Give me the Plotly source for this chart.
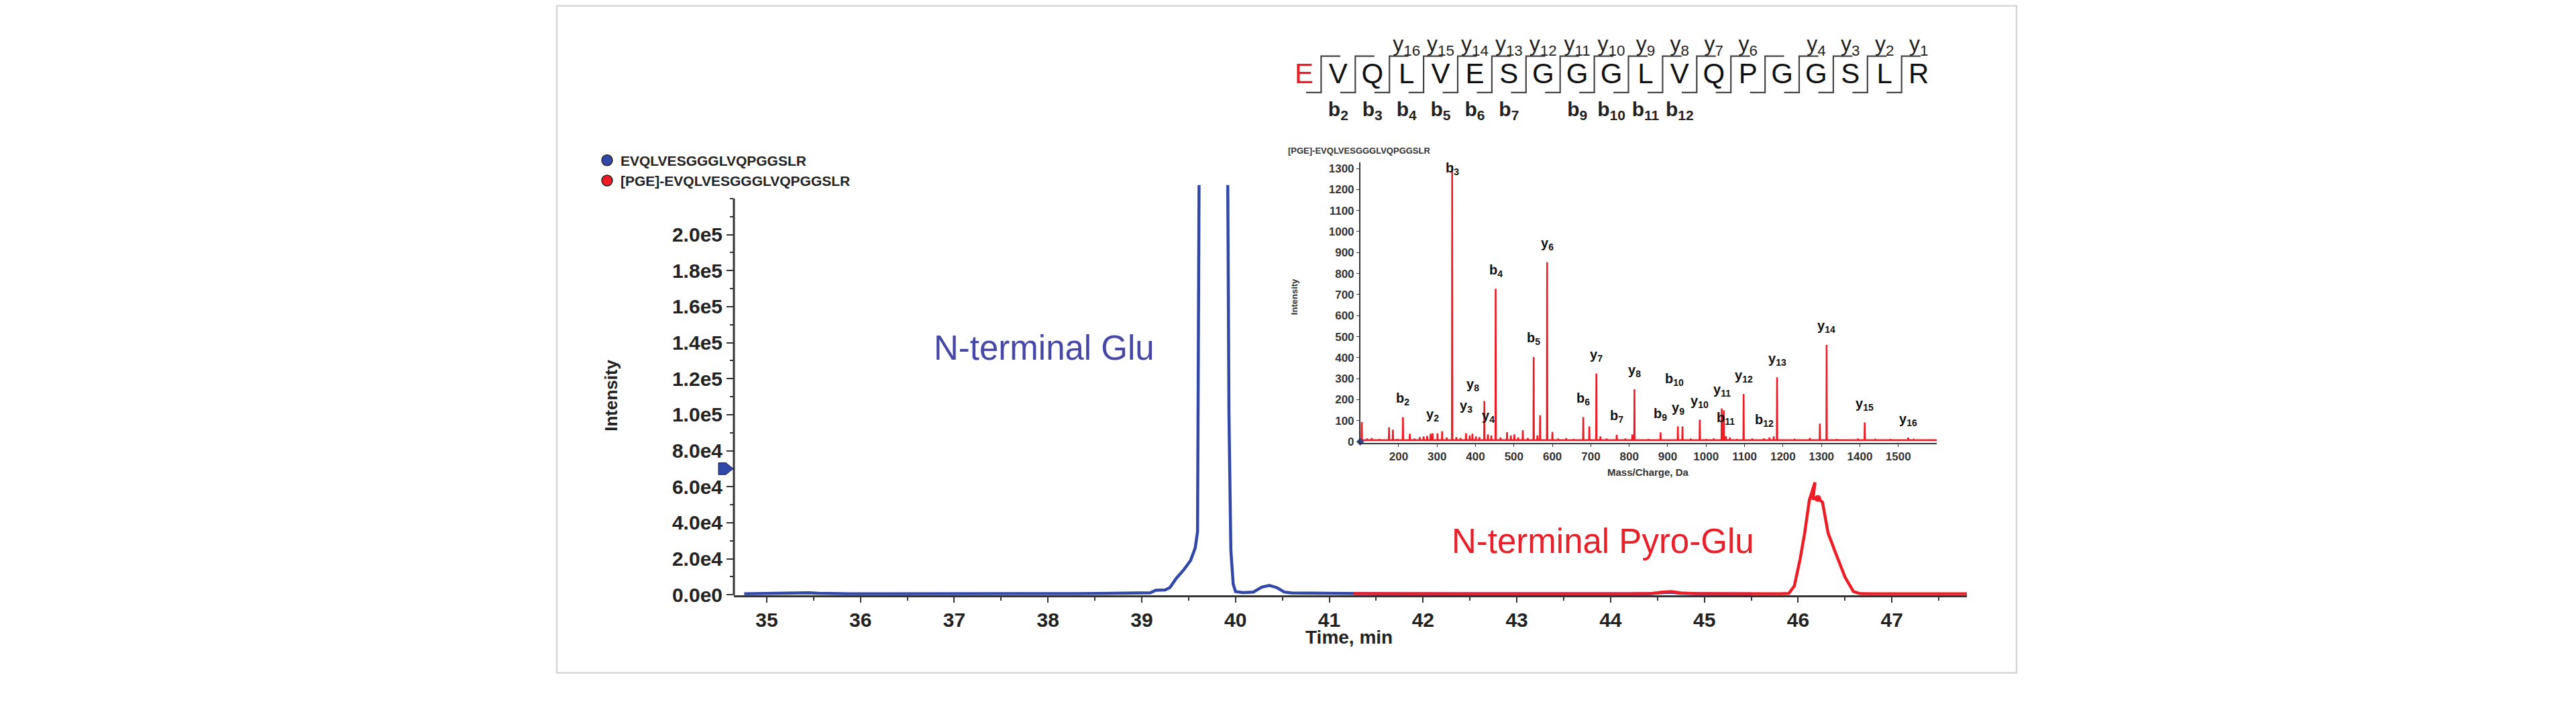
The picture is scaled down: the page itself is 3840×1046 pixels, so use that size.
import plotly.graph_objects as go

W, H = 3840, 1046
FONT = "Liberation Sans, Arial, sans-serif"

# ---------------- chromatogram data (time in min, intensity in cps) ----------------
glu_time = [34.76, 34.9, 35.1, 35.3, 35.45, 35.55, 35.7, 35.9, 36.2, 36.5, 36.8, 37.1, 37.4,
            37.7, 38.0, 38.3, 38.55, 38.75, 38.95, 39.09, 39.15, 39.25, 39.30, 39.37, 39.45,
            39.52, 39.57, 39.595, 39.613, 39.62, 39.76, 39.905, 39.915, 39.93, 39.95, 39.975,
            40.0, 40.08, 40.19, 40.28, 40.36, 40.44, 40.52, 40.6, 40.75, 40.9, 41.1, 41.3,
            41.6, 42.0, 42.5, 43.0, 43.5, 44.0, 44.4, 44.55, 44.65, 44.75, 45.0, 45.5]
glu_intensity = [500, 700, 600, 900, 1100, 800, 600, 500, 550, 500, 450, 500, 500,
                 450, 500, 600, 700, 900, 1000, 1100, 2500, 2700, 4000, 9200, 14000,
                 19000, 26000, 35000, 250000, 600000, 900000, 600000, 250000, 100000, 25000, 6000,
                 1800, 1200, 1500, 4200, 5200, 4000, 1500, 1000, 900, 800, 700, 550,
                 500, 500, 500, 500, 450, 500, 500, 1200, 1400, 800, 500, 450]

pyro_time = [41.26, 41.5, 41.8, 42.1, 42.4, 42.7, 43.0, 43.3, 43.6, 43.9, 44.2, 44.45, 44.55,
             44.65, 44.75, 44.9, 45.2, 45.5, 45.8, 45.90, 45.96, 46.02, 46.07, 46.12, 46.18,
             46.16, 46.21, 46.26, 46.32, 46.40, 46.50, 46.59, 46.66, 46.8, 47.0, 47.2, 47.5, 47.8]
pyro_intensity = [600, 500, 550, 600, 500, 550, 500, 450, 500, 550, 500, 700, 1500,
                  1700, 1000, 600, 500, 450, 500, 700, 4900, 19500, 34200, 52600, 62400,
                  53500, 53500, 51400, 34200, 23200, 9800, 1800, 600, 500, 550, 500, 500, 500]

selected_point = (46.21, 53500)      # highlighted scan on the pyro-Glu peak
threshold_level = 70000              # arrow marker on the intensity axis

x_ticks = list(range(35, 48))
y_tickvals = [0, 20000, 40000, 60000, 80000, 100000, 120000, 140000, 160000, 180000, 200000]
y_ticktext = ["0.0e0", "2.0e4", "4.0e4", "6.0e4", "8.0e4", "1.0e5", "1.2e5", "1.4e5",
              "1.6e5", "1.8e5", "2.0e5"]

series_names = ["EVQLVESGGGLVQPGGSLR", "[PGE]-EVQLVESGGGLVQPGGSLR"]

# ---------------- MS/MS spectrum (inset) ----------------
ion_labels = ["b2", "y2", "b3", "y3", "y8", "y4", "b4", "b5", "y6", "b6", "y7", "b7", "y8",
              "b9", "y9", "b10", "y10", "y11", "b11", "y12", "b12", "y13", "y14", "y15", "y16"]
ion_mz = [211.1, 288.2, 339.2, 375.2, 423.0, 432.2, 452.3, 551.3, 586.3, 680.4, 714.4, 767.4,
          813.5, 881.4, 926.5, 938.5, 983.6, 1040.6, 1051.6, 1097.6, 1150.6, 1184.6, 1313.6,
          1412.7, 1525.8]
ion_intensity = [117, 40, 1314, 40, 194, 35, 728, 403, 854, 117, 325, 33, 250, 44, 73, 73,
                 105, 159, 26, 227, 15, 306, 461, 92, 19]

minor_mz = [104, 118, 130, 150, 162, 175, 185, 196, 229, 241, 255, 265, 274, 283, 301, 313,
            325, 350, 361, 385, 392, 401, 410, 441, 465, 482, 492, 501, 511, 523, 536, 561,
            568, 600, 615, 636, 655, 696, 725, 741, 790, 808, 850, 900, 960, 1000, 1020, 1046,
            1062, 1080, 1120, 1165, 1176, 1230, 1270, 1296, 1340, 1395, 1440, 1480, 1540, 1580]
minor_intensity = [94, 15, 18, 12, 10, 68, 57, 12, 38, 15, 22, 25, 28, 38, 40, 50,
                   20, 22, 18, 30, 38, 25, 22, 30, 20, 45, 30, 35, 20, 55, 18, 30,
                   126, 47, 15, 17, 12, 73, 25, 15, 15, 35, 12, 10, 15, 12, 15, 150,
                   20, 12, 15, 20, 25, 10, 18, 86, 12, 15, 10, 12, 10, 8]
spectrum_baseline = 8

spec_x_ticks = list(range(200, 1600, 100))
spec_y_ticks = list(range(0, 1400, 100))
spectrum_title = "[PGE]-EVQLVESGGGLVQPGGSLR"

# ---------------- peptide fragment map ----------------
sequence = list("EVQLVESGGGLVQPGGSLR")
b_ions = [2, 3, 4, 5, 6, 7, 9, 10, 11, 12]
y_ions = [16, 15, 14, 13, 12, 11, 10, 9, 8, 7, 6, 4, 3, 2, 1]

# ---------------- styles ----------------
BLUE = "#3148A8"
RED = "#EE1C25"
GLU_TEXT = "#4747A8"
PYRO_TEXT = "#E8202A"
AX = "#333333"


def px_x(p):
    return p / W


def px_y(p):
    return 1 - p / H


# main axes geometry (pixels)
MX0, MX1 = 1094, 2932
MY_BOTTOM, MY_TOP = 900.5, 280
XR = [34.65, 47.8]
YR = [-200, 227500]

# inset geometry
IX0, IX1 = 2027.7, 2887
IY_BOTTOM, IY_TOP = 670, 245.4
SXR = [100, 1600]
SYR = [-5, 1330]

# sequence map geometry
QX0, QX1 = 1918.5, 2885.6

fig = go.Figure()

# chromatograms
fig.add_trace(go.Scatter(x=glu_time, y=glu_intensity, mode="lines",
                         line=dict(color=BLUE, width=4.5), showlegend=False,
                         xaxis="x", yaxis="y"))
fig.add_trace(go.Scatter(x=pyro_time, y=pyro_intensity, mode="lines",
                         line=dict(color=RED, width=4.5), showlegend=False,
                         xaxis="x", yaxis="y"))
fig.add_trace(go.Scatter(x=[selected_point[0]], y=[selected_point[1]], mode="markers",
                         marker=dict(color=RED, size=10), showlegend=False))

# legend entries
for nm, col in zip(series_names, [BLUE, RED]):
    fig.add_trace(go.Scatter(x=[None], y=[None], mode="markers", name=nm,
                             marker=dict(symbol="circle", size=16, color=col,
                                         line=dict(color="#222", width=1.5))))

# inset spectrum (stick spectrum drawn as a profile)
peaks = sorted(zip(ion_mz + minor_mz, ion_intensity + minor_intensity))
sx, sy = [SXR[0]], [spectrum_baseline]
for m, h in peaks:
    sx += [m - 0.7, m, m + 0.7]
    sy += [spectrum_baseline, h, spectrum_baseline]
sx.append(SXR[1])
sy.append(spectrum_baseline)
fig.add_trace(go.Scatter(x=sx, y=sy, mode="lines", line=dict(color=RED, width=2.6),
                         showlegend=False, xaxis="x2", yaxis="y2"))
fig.add_trace(go.Scatter(x=[SXR[0]], y=[0], mode="markers",
                         marker=dict(symbol="diamond", size=9, color=BLUE),
                         cliponaxis=False, showlegend=False, xaxis="x2", yaxis="y2"))

# peptide fragment map
n = len(sequence)
pos = list(range(1, n + 1))
fig.add_trace(go.Scatter(x=pos, y=[85] * n, mode="text", text=sequence,
                         textfont=dict(family=FONT, size=42,
                                       color=[RED] + ["#111111"] * (n - 1)),
                         showlegend=False, xaxis="x3", yaxis="y3"))
bx, by = [], []
for g in range(1, n):
    bx += [g + 0.06, g + 0.5, g + 0.5, g + 1.06, None]
    by += [60, 60, 115, 115, None]
fig.add_trace(go.Scatter(x=bx, y=by, mode="lines", line=dict(color="#444444", width=2.2),
                         showlegend=False, xaxis="x3", yaxis="y3"))
fig.add_trace(go.Scatter(x=[n - k + 1 for k in y_ions], y=[131] * len(y_ions), mode="text",
                         text=["y<sub>%d</sub>" % k for k in y_ions],
                         textfont=dict(family=FONT, size=32, color="#222222"),
                         showlegend=False, xaxis="x3", yaxis="y3"))
fig.add_trace(go.Scatter(x=b_ions, y=[32] * len(b_ions), mode="text",
                         text=["b<sub>%d</sub>" % k for k in b_ions],
                         textfont=dict(family=FONT, size=30, color="#222222", weight="bold"),
                         showlegend=False, xaxis="x3", yaxis="y3"))

annotations = []
# ion labels on spectrum
label_shift = {"b3": (0, -5), "y3": (0, 40), "y8@low": (-17, 24), "b10": (-12, 70)}
for lab, m, h in zip(ion_labels, ion_mz, ion_intensity):
    key = "y8@low" if (lab == "y8" and m < 500) else lab
    xs, ys = label_shift.get(key, (0, 27))
    annotations.append(dict(x=m, y=h, xref="x2", yref="y2", showarrow=False,
                            text="%s<sub>%s</sub>" % (lab[0], lab[1:]),
                            xshift=xs, yshift=ys, xanchor="center", yanchor="middle",
                            font=dict(family=FONT, size=20, color="#111111", weight="bold")))


def txt(x, y, text, size, color, weight="normal", angle=0, xanchor="center"):
    return dict(x=px_x(x), y=px_y(y), xref="paper", yref="paper", showarrow=False,
                text=text, textangle=angle, xanchor=xanchor, yanchor="middle",
                font=dict(family=FONT, size=size, color=color, weight=weight))


annotations += [
    txt(1556, 527, "N-terminal Glu", 51, GLU_TEXT),
    txt(2389, 819, "N-terminal Pyro-Glu", 51, PYRO_TEXT),
    txt(2011, 964, "Time, min", 28, "#222", "bold"),
    txt(911, 599, "Intensity", 26, "#222", "bold", angle=-90),
    txt(1918, 228, spectrum_title, 13, "#333", "bold", xanchor="left"),
    txt(1929, 449, "Intensity", 13, "#333", "bold", angle=-90),
    txt((IX0 + IX1) / 2, 714, "Mass/Charge, Da", 15, "#333", "bold"),
]


def main_y_paper(v):
    frac = (v - YR[0]) / (YR[1] - YR[0])
    return px_y(MY_BOTTOM) + frac * (px_y(MY_TOP) - px_y(MY_BOTTOM))


def main_y_px(v):
    frac = (v - YR[0]) / (YR[1] - YR[0])
    return MY_BOTTOM + frac * (MY_TOP - MY_BOTTOM)


# pentagon arrow marker on the y axis at the threshold level
ay = main_y_px(threshold_level)
arrow_pts = [(1071, ay - 9), (1082, ay - 9), (1093, ay), (1082, ay + 9), (1071, ay + 9)]
arrow_path = "M " + " L ".join("%.5f,%.5f" % (px_x(a), px_y(b)) for a, b in arrow_pts) + " Z"

shapes = [
    dict(type="rect", xref="paper", yref="paper", x0=px_x(830), x1=px_x(3006),
         y0=px_y(1018), y1=px_y(9), line=dict(color="#D6D6D6", width=2.5), layer="below"),
    dict(type="line", xref="paper", yref="paper", x0=px_x(MX0), x1=px_x(MX0),
         y0=main_y_paper(YR[0]), y1=main_y_paper(220000), line=dict(color=AX, width=3)),
    dict(type="path", xref="paper", yref="paper", path=arrow_path,
         fillcolor=BLUE, line=dict(color="#1a1a5a", width=1)),
]

tickfont_main = dict(family=FONT, size=30, color="#222", weight="bold")
tickfont_inset = dict(family=FONT, size=17, color="#333", weight="bold")

fig.update_layout(
    width=W, height=H, margin=dict(l=0, r=0, t=0, b=0),
    paper_bgcolor="white", plot_bgcolor="rgba(0,0,0,0)",
    font=dict(family=FONT),
    showlegend=True,
    legend=dict(x=px_x(885), y=px_y(222), xanchor="left", yanchor="top",
                font=dict(family=FONT, size=21, color="#222", weight="bold"),
                bgcolor="rgba(0,0,0,0)", itemsizing="trace", tracegroupgap=0),
    xaxis=dict(domain=[px_x(MX0), px_x(MX1)], range=XR, anchor="y",
               tickmode="array", tickvals=x_ticks, ticktext=[str(t) for t in x_ticks],
               ticks="outside", ticklen=8, tickwidth=2, tickcolor=AX,
               showline=True, linecolor=AX, linewidth=3, showgrid=False, zeroline=False,
               tickfont=tickfont_main,
               minor=dict(tick0=35, dtick=0.5, ticks="outside", ticklen=5, tickwidth=1.5,
                          tickcolor=AX, showgrid=False)),
    yaxis=dict(domain=[px_y(MY_BOTTOM), px_y(MY_TOP)], range=YR, anchor="x",
               tickmode="array", tickvals=y_tickvals, ticktext=y_ticktext,
               ticks="outside", ticklen=10, tickwidth=2, tickcolor=AX,
               showline=False, showgrid=False, zeroline=False, tickfont=tickfont_main,
               minor=dict(tick0=0, dtick=10000, ticks="outside", ticklen=5, tickwidth=1.5,
                          tickcolor=AX, showgrid=False)),
    xaxis2=dict(domain=[px_x(IX0), px_x(IX1)], range=SXR, anchor="y2",
                tickmode="array", tickvals=spec_x_ticks, ticks="outside", ticklen=4,
                tickwidth=1.2, tickcolor=AX, showline=True, linecolor=AX, linewidth=1.5,
                showgrid=False, zeroline=False, tickfont=tickfont_inset),
    yaxis2=dict(domain=[px_y(IY_BOTTOM), px_y(IY_TOP)], range=SYR, anchor="x2",
                tickmode="array", tickvals=spec_y_ticks, ticks="outside", ticklen=4,
                tickwidth=1.2, tickcolor=AX, showline=True, linecolor=AX, linewidth=1.5,
                showgrid=False, zeroline=False, tickfont=tickfont_inset),
    xaxis3=dict(domain=[px_x(QX0), px_x(QX1)], range=[0.5, n + 0.5], anchor="y3",
                visible=False),
    yaxis3=dict(domain=[px_y(200), 1.0], range=[0, 200], anchor="x3", visible=False),
    annotations=annotations,
    shapes=shapes,
)

fig.write_html("out.html")
